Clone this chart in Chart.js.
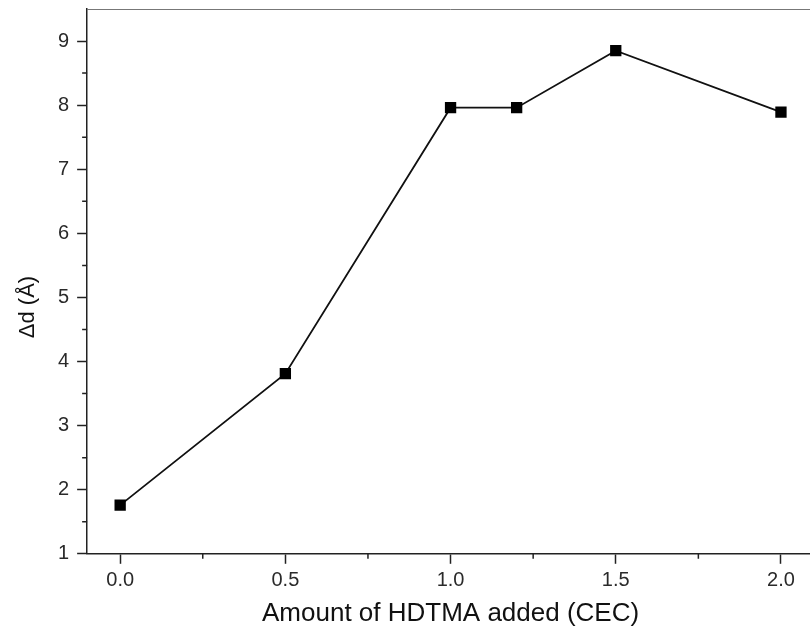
<!DOCTYPE html>
<html>
<head>
<meta charset="utf-8">
<script src="https://cdn.jsdelivr.net/npm/chart.js@4"></script>
<style>
  body { margin: 0; background: #fff; }
  #wrap { width: 810px; height: 629px; overflow: hidden; }
</style>
</head>
<body>
<div id="wrap"><canvas id="myChart" width="822" height="629"></canvas></div>
<script>
// data
var xValues = [0, 0.5, 1.0, 1.2, 1.5, 2.0];
var yValues = [1.76, 3.81, 7.96, 7.96, 8.85, 7.89];
var xTicks = [0, 0.5, 1.0, 1.5, 2.0];
var xMinor = [0.25, 0.75, 1.25, 1.75];
var yTicks = [1, 2, 3, 4, 5, 6, 7, 8, 9];
var yMinor = [1.5, 2.5, 3.5, 4.5, 5.5, 6.5, 7.5, 8.5];
var yTitle = "Δd (Å)";
var xTitle = "Amount of HDTMA added (CEC)";

var points = [];
for (var i = 0; i < xValues.length; i++) {
  points.push({ x: xValues[i], y: yValues[i] });
}

var axisColor = "#222";
var font = "'Liberation Sans', Arial, sans-serif";

// short minor ticks, top frame line and the y title (sits a bit low in the original)
var frame = {
  id: "frame",
  afterDraw: function (chart) {
    var ctx = chart.ctx;
    var area = chart.chartArea;
    var xs = chart.scales.x;
    var ys = chart.scales.y;
    ctx.save();
    ctx.strokeStyle = "#777";
    ctx.lineWidth = 1;
    ctx.beginPath();
    ctx.moveTo(area.left, area.top + 0.5);
    ctx.lineTo(area.right, area.top + 0.5);
    ctx.stroke();
    ctx.strokeStyle = axisColor;
    ctx.lineWidth = 1.5;
    ctx.beginPath();
    xMinor.forEach(function (v) {
      var px = xs.getPixelForValue(v);
      ctx.moveTo(px, area.bottom);
      ctx.lineTo(px, area.bottom + 5);
    });
    yMinor.forEach(function (v) {
      var py = ys.getPixelForValue(v);
      ctx.moveTo(area.left, py);
      ctx.lineTo(area.left - 5, py);
    });
    ctx.stroke();

    ctx.translate(28, ys.getPixelForValue(4.85));
    ctx.rotate(-Math.PI / 2);
    ctx.fillStyle = "#111";
    ctx.font = "22px " + font;
    ctx.textAlign = "center";
    ctx.textBaseline = "middle";
    ctx.fillText(yTitle, 0, 0);
    ctx.restore();
  }
};

new Chart("myChart", {
  type: "scatter",
  data: {
    datasets: [
      {
        data: points,
        showLine: true,
        borderColor: "#111",
        borderWidth: 1.8,
        backgroundColor: "#000",
        pointStyle: "rect",
        pointRadius: 8,
        pointHoverRadius: 8,
        pointBorderWidth: 0
      }
    ]
  },
  options: {
    responsive: false,
    animation: false,
    layout: { padding: { left: 50, top: 9, right: 4, bottom: 0 } },
    plugins: {
      legend: { display: false },
      tooltip: { enabled: false }
    },
    scales: {
      x: {
        type: "linear",
        min: -0.1,
        max: 2.1,
        afterBuildTicks: function (scale) {
          scale.ticks = xTicks.map(function (v) { return { value: v }; });
        },
        afterFit: function (scale) {
          scale.paddingLeft = 0;
          scale.paddingRight = 0;
        },
        ticks: {
          color: "#2a2a2a",
          padding: 5,
          maxRotation: 0,
          font: { family: font, size: 20 },
          callback: function (v) { return v.toFixed(1); }
        },
        grid: {
          drawOnChartArea: false,
          tickLength: 10,
          tickColor: axisColor,
          tickWidth: 1.5
        },
        border: { color: axisColor, width: 1.5 },
        title: {
          display: true,
          text: xTitle,
          color: "#111",
          font: { family: font, size: 26 },
          padding: { top: 0, bottom: 0 }
        }
      },
      y: {
        min: 1,
        max: 9.5,
        afterBuildTicks: function (scale) {
          scale.ticks = yTicks.map(function (v) { return { value: v }; });
        },
        afterFit: function (scale) {
          scale.paddingTop = 0;
          scale.paddingBottom = 0;
        },
        ticks: {
          color: "#2a2a2a",
          padding: 8,
          font: { family: font, size: 20 }
        },
        grid: {
          drawOnChartArea: false,
          tickLength: 10,
          tickColor: axisColor,
          tickWidth: 1.5
        },
        border: { color: axisColor, width: 1.5 }
      }
    }
  },
  plugins: [frame]
});
</script>
</body>
</html>
